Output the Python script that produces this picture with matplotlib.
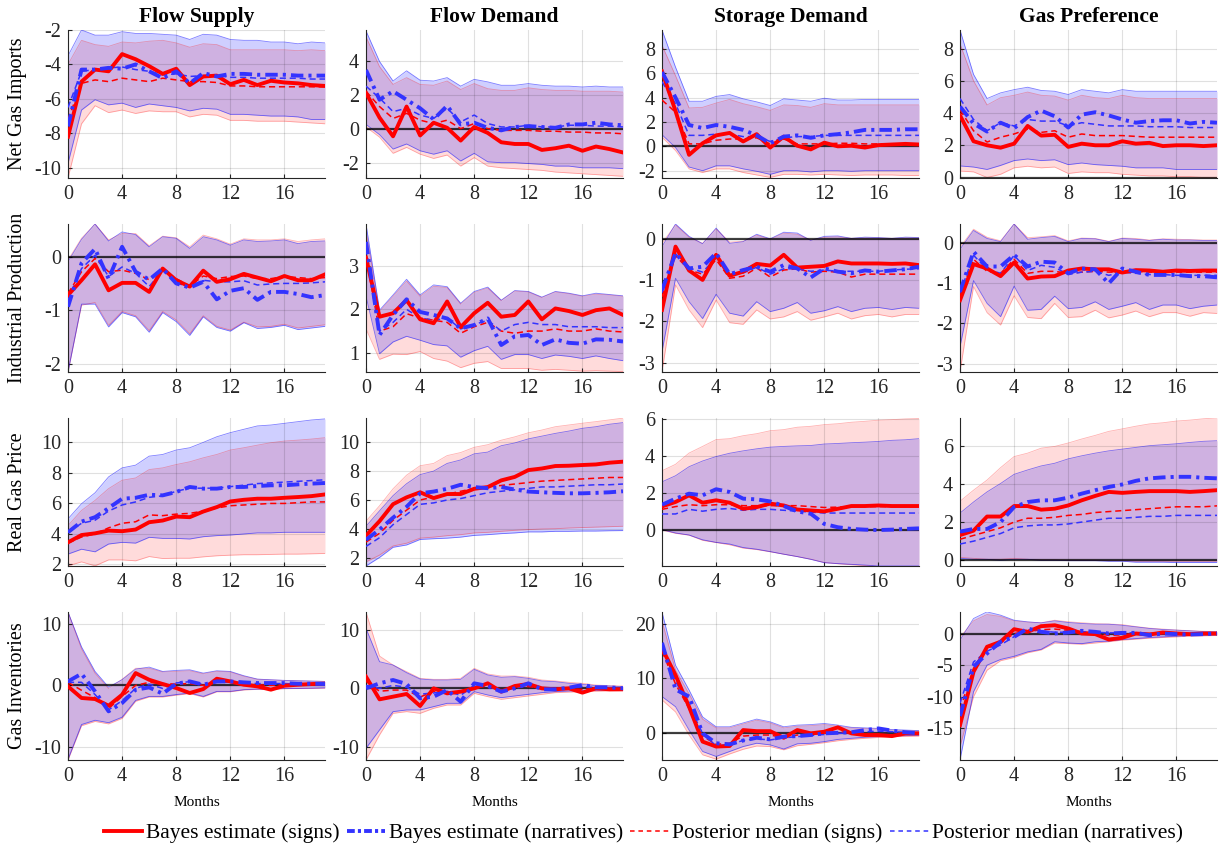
import numpy as np
import matplotlib
matplotlib.use("Agg")
import matplotlib.pyplot as plt
from matplotlib.lines import Line2D

plt.rcParams["font.family"] = ["Liberation Serif", "DejaVu Serif"]
plt.rcParams["axes.unicode_minus"] = False

# ---- labels ----
shocks = ["Flow Supply", "Flow Demand", "Storage Demand", "Gas Preference"]
variables = ["Net Gas Imports", "Industrial Production", "Real Gas Price", "Gas Inventories"]
months = np.arange(20)

# ---- data: [variable][shock] -> 20 horizons ----
# 68% bands, sign restrictions only (red)
sig_hi = [
    [[-4.0, -2.6, -2.85, -2.95, -2.7, -2.75, -2.65, -2.6, -2.75, -3.0, -2.8, -2.85, -3.15, -3.15, -3.15, -3.15, -3.15, -3.2, -3.15, -3.2],
     [5.4, 3.65, 2.6, 3.0, 2.6, 2.55, 2.8, 2.3, 2.65, 2.35, 2.25, 2.25, 2.4, 2.3, 2.25, 2.25, 2.2, 2.2, 2.2, 2.15],
     [8.3, 5.8, 3.15, 3.2, 3.55, 3.85, 3.5, 3.25, 2.95, 3.4, 3.35, 3.2, 3.5, 3.4, 3.4, 3.4, 3.4, 3.4, 3.4, 3.4],
     [8.3, 6.0, 4.5, 4.95, 5.1, 5.3, 5.1, 5.05, 4.8, 5.1, 4.95, 4.9, 5.1, 4.95, 4.9, 4.9, 4.9, 4.9, 4.9, 4.9]],
    [[-0.05, 0.36, 0.63, 0.33, 0.45, 0.45, 0.22, 0.4, 0.37, 0.2, 0.42, 0.35, 0.25, 0.35, 0.33, 0.33, 0.35, 0.3, 0.33, 0.35],
     [3.8, 1.95, 2.3, 2.65, 2.3, 2.53, 2.5, 2.12, 2.39, 2.49, 2.2, 2.42, 2.4, 2.27, 2.4, 2.36, 2.3, 2.35, 2.33, 2.3],
     [-0.1, 0.35, 0.05, -0.1, 0.25, -0.07, -0.05, 0.1, 0.0, 0.15, 0.12, -0.02, 0.05, 0.06, 0.02, 0.03, 0.03, 0.02, 0.03, 0.03],
     [-0.1, 0.35, 0.15, 0.06, 0.48, 0.14, 0.16, 0.19, 0.06, 0.13, 0.12, 0.05, 0.13, 0.12, 0.08, 0.11, 0.1, 0.09, 0.08, 0.08]],
    [[4.55, 5.54, 6.2, 6.97, 7.52, 7.67, 8.22, 8.33, 8.55, 8.73, 8.99, 9.21, 9.5, 9.65, 9.82, 9.98, 10.09, 10.15, 10.22, 10.31],
     [4.54, 5.6, 6.77, 7.71, 8.36, 8.52, 9.06, 9.27, 9.63, 9.81, 10.12, 10.35, 10.63, 10.82, 11.05, 11.17, 11.29, 11.4, 11.52, 11.64],
     [3.19, 3.54, 4.15, 4.51, 4.88, 4.93, 5.09, 5.2, 5.36, 5.42, 5.55, 5.6, 5.69, 5.74, 5.82, 5.87, 5.93, 5.96, 6.0, 6.02],
     [3.09, 3.67, 4.2, 4.85, 5.43, 5.61, 5.87, 5.96, 6.14, 6.35, 6.54, 6.75, 6.88, 7.02, 7.14, 7.2, 7.29, 7.34, 7.41, 7.46]],
    [[12.0, 6.0, 2.0, -0.5, 1.0, 2.8, 2.8, 2.2, 2.3, 2.4, 1.9, 2.3, 2.2, 1.5, 1.0, 0.9, 0.8, 0.75, 0.7, 0.65],
     [13.1, 5.54, 4.0, 2.86, 1.71, 1.54, 1.54, 1.71, 3.43, 2.46, 2.11, 2.11, 1.89, 1.43, 1.26, 1.03, 0.86, 0.57, 0.46, 0.4],
     [20.5, 11.5, 7.2, 2.6, 1.0, 1.0, 1.7, 2.4, 1.9, 1.0, 1.3, 1.4, 1.6, 1.3, 1.0, 0.9, 0.8, 0.6, 0.5, 0.45],
     [-0.6, 2.0, 3.0, 2.7, 2.0, 1.8, 1.7, 2.1, 1.85, 1.7, 1.55, 1.5, 1.4, 1.1, 0.85, 0.7, 0.55, 0.45, 0.35, 0.3]],
]
sig_lo = [
    [[-10.6, -7.45, -6.4, -6.8, -6.65, -6.85, -6.7, -6.75, -6.75, -7.05, -6.9, -6.95, -7.25, -7.25, -7.3, -7.3, -7.3, -7.35, -7.4, -7.45],
     [0.1, -0.5, -1.45, -1.1, -1.5, -1.75, -1.55, -2.2, -1.7, -2.2, -2.3, -2.35, -2.4, -2.45, -2.55, -2.6, -2.65, -2.7, -2.75, -2.8],
     [0.75, -0.35, -1.85, -2.15, -1.85, -1.85, -2.15, -2.35, -2.55, -2.3, -2.3, -2.35, -2.3, -2.35, -2.4, -2.35, -2.35, -2.35, -2.4, -2.4],
     [0.4, 0.35, 0.0, 0.2, 0.6, 0.7, 0.6, 0.65, 0.25, 0.35, 0.3, 0.3, 0.2, 0.15, 0.1, 0.1, 0.05, 0.05, 0.0, 0.0]],
    [[-2.16, -0.9, -0.85, -1.28, -1.02, -1.1, -1.38, -1.02, -1.18, -1.44, -1.1, -1.3, -1.37, -1.22, -1.31, -1.3, -1.26, -1.33, -1.3, -1.27],
     [1.55, 0.85, 0.97, 0.96, 1.03, 0.87, 0.81, 0.66, 0.76, 0.8, 0.64, 0.64, 0.64, 0.6, 0.62, 0.6, 0.58, 0.59, 0.58, 0.57],
     [-3.23, -1.11, -1.72, -2.15, -1.48, -2.03, -2.07, -1.72, -1.94, -1.89, -1.76, -1.97, -1.89, -1.8, -1.94, -1.86, -1.83, -1.89, -1.83, -1.83],
     [-3.21, -1.08, -1.73, -2.04, -1.31, -1.85, -1.88, -1.5, -1.85, -1.83, -1.67, -1.86, -1.79, -1.69, -1.83, -1.73, -1.73, -1.82, -1.73, -1.75]],
    [[1.91, 2.17, 1.91, 2.3, 2.3, 2.24, 2.52, 2.39, 2.41, 2.41, 2.5, 2.57, 2.61, 2.64, 2.64, 2.66, 2.68, 2.68, 2.7, 2.72],
     [1.73, 2.2, 2.83, 3.02, 3.37, 3.44, 3.54, 3.61, 3.73, 3.77, 3.84, 3.91, 3.96, 4.0, 4.02, 4.07, 4.1, 4.13, 4.16, 4.19],
     [-0.02, -0.2, -0.3, -0.58, -0.7, -0.82, -1.0, -1.08, -1.2, -1.33, -1.46, -1.6, -1.78, -1.85, -1.9, -1.95, -2.0, -2.0, -2.0, -2.0],
     [0.15, 0.1, 0.05, 0.05, 0.1, 0.05, 0.02, 0.02, 0.0, 0.0, 0.0, -0.02, -0.02, -0.05, -0.05, -0.05, -0.05, -0.05, -0.05, -0.05]],
    [[-12.2, -6.6, -5.9, -6.3, -5.4, -2.6, -1.9, -1.9, -1.6, -1.35, -1.9, -1.05, -1.05, -0.75, -0.65, -0.65, -0.55, -0.5, -0.5, -0.45],
     [-12.3, -8.0, -4.29, -4.0, -4.29, -3.43, -2.86, -2.86, -0.86, -1.43, -1.89, -1.6, -1.31, -1.03, -0.74, -0.65, -0.57, -0.5, -0.45, -0.4],
     [6.1, 3.9, -0.3, -3.9, -4.7, -3.75, -2.9, -2.3, -2.4, -3.0, -2.25, -2.0, -1.7, -1.35, -1.1, -0.9, -0.75, -0.6, -0.55, -0.5],
     [-17.9, -10.0, -5.8, -4.3, -3.8, -3.05, -2.6, -1.5, -1.6, -1.7, -1.5, -1.3, -1.05, -0.9, -0.74, -0.63, -0.53, -0.42, -0.37, -0.32]],
]
# 68% bands, signs + narratives (blue)
nar_hi = [
    [[-3.5, -2.0, -2.3, -2.3, -2.1, -2.2, -2.2, -2.25, -2.3, -2.55, -2.25, -2.3, -2.55, -2.6, -2.6, -2.7, -2.7, -2.8, -2.7, -2.75],
     [5.75, 3.95, 2.8, 3.4, 2.85, 2.8, 3.0, 2.5, 2.9, 2.75, 2.55, 2.55, 2.65, 2.55, 2.5, 2.5, 2.45, 2.5, 2.45, 2.45],
     [9.55, 6.5, 3.7, 3.7, 4.1, 4.25, 3.9, 3.65, 3.35, 3.9, 3.8, 3.7, 3.95, 3.8, 3.8, 3.85, 3.85, 3.85, 3.85, 3.85],
     [9.15, 6.4, 4.9, 5.25, 5.45, 5.6, 5.4, 5.35, 5.15, 5.45, 5.35, 5.25, 5.45, 5.35, 5.35, 5.35, 5.35, 5.35, 5.35, 5.35]],
    [[-0.08, 0.34, 0.63, 0.31, 0.48, 0.43, 0.2, 0.39, 0.36, 0.17, 0.39, 0.33, 0.23, 0.33, 0.3, 0.31, 0.33, 0.26, 0.3, 0.31],
     [3.96, 1.98, 2.33, 2.69, 2.33, 2.56, 2.52, 2.14, 2.41, 2.51, 2.21, 2.43, 2.41, 2.28, 2.41, 2.37, 2.31, 2.37, 2.34, 2.31],
     [-0.18, 0.37, 0.07, -0.11, 0.27, -0.1, -0.06, 0.12, 0.01, 0.17, 0.15, -0.03, 0.07, 0.08, 0.02, 0.05, 0.04, 0.02, 0.05, 0.04],
     [-0.15, 0.32, 0.12, 0.04, 0.48, 0.1, 0.14, 0.17, 0.04, 0.12, 0.11, 0.04, 0.12, 0.1, 0.07, 0.1, 0.08, 0.08, 0.07, 0.07]],
    [[4.99, 5.98, 6.7, 7.74, 8.33, 8.51, 9.1, 9.21, 9.5, 9.65, 10.0, 10.37, 10.64, 10.86, 11.08, 11.14, 11.25, 11.36, 11.47, 11.54],
     [4.19, 5.25, 6.3, 7.12, 7.75, 7.99, 8.52, 8.76, 9.18, 9.3, 9.74, 9.93, 10.21, 10.4, 10.59, 10.75, 10.94, 11.05, 11.22, 11.33],
     [2.59, 2.92, 3.41, 3.72, 3.96, 4.14, 4.27, 4.38, 4.47, 4.51, 4.54, 4.56, 4.64, 4.67, 4.71, 4.74, 4.78, 4.84, 4.87, 4.93],
     [2.47, 3.05, 3.58, 4.02, 4.5, 4.73, 4.94, 5.08, 5.31, 5.47, 5.61, 5.73, 5.82, 5.91, 6.0, 6.05, 6.1, 6.17, 6.23, 6.26]],
    [[12.0, 6.3, 2.28, -0.27, 0.92, 2.66, 2.99, 2.28, 2.45, 2.55, 2.01, 2.39, 2.28, 1.58, 1.03, 0.92, 0.82, 0.76, 0.7, 0.65],
     [10.3, 4.57, 4.0, 2.69, 1.6, 1.43, 1.43, 1.54, 3.26, 2.29, 1.89, 2.0, 1.71, 1.26, 1.14, 0.86, 0.69, 0.46, 0.4, 0.29],
     [22.1, 12.4, 7.9, 3.0, 1.2, 1.2, 1.9, 2.6, 2.1, 1.2, 1.5, 1.6, 1.8, 1.5, 1.1, 1.0, 0.9, 0.7, 0.6, 0.5],
     [-1.05, 2.37, 3.42, 2.9, 2.1, 1.84, 1.68, 2.0, 1.74, 1.58, 1.47, 1.47, 1.3, 1.05, 0.8, 0.63, 0.53, 0.42, 0.3, 0.26]],
]
nar_lo = [
    [[-9.75, -6.65, -6.05, -6.35, -6.25, -6.5, -6.3, -6.4, -6.5, -6.7, -6.55, -6.6, -6.9, -6.9, -6.95, -7.0, -7.0, -7.05, -7.2, -7.2],
     [0.25, -0.35, -1.2, -0.9, -1.3, -1.5, -1.3, -1.9, -1.45, -1.95, -2.0, -2.0, -2.05, -2.1, -2.2, -2.2, -2.3, -2.3, -2.3, -2.35],
     [0.95, -0.1, -1.7, -2.0, -1.6, -1.6, -1.85, -2.05, -2.3, -2.0, -2.0, -2.1, -2.0, -2.0, -2.05, -2.0, -2.0, -2.0, -2.0, -2.0],
     [0.72, 0.65, 0.5, 0.75, 1.05, 1.15, 1.05, 1.1, 0.8, 0.9, 0.8, 0.75, 0.7, 0.6, 0.6, 0.6, 0.5, 0.5, 0.5, 0.5]],
    [[-2.16, -0.88, -0.88, -1.31, -1.04, -1.12, -1.41, -1.04, -1.21, -1.47, -1.12, -1.32, -1.39, -1.23, -1.34, -1.32, -1.28, -1.36, -1.33, -1.3],
     [2.3, 0.98, 1.25, 1.38, 1.29, 1.19, 1.16, 0.9, 1.05, 1.15, 0.85, 0.96, 0.96, 0.87, 0.95, 0.92, 0.87, 0.93, 0.87, 0.82],
     [-2.74, -0.95, -1.52, -1.93, -1.34, -1.8, -1.87, -1.52, -1.76, -1.68, -1.54, -1.8, -1.74, -1.64, -1.76, -1.68, -1.66, -1.71, -1.66, -1.68],
     [-2.58, -0.93, -1.5, -1.83, -1.07, -1.67, -1.65, -1.32, -1.63, -1.6, -1.46, -1.65, -1.57, -1.48, -1.65, -1.54, -1.54, -1.63, -1.57, -1.54]],
    [[2.68, 3.0, 2.83, 3.34, 3.45, 3.4, 3.78, 3.71, 3.71, 3.67, 3.82, 3.89, 3.93, 4.0, 4.07, 4.07, 4.11, 4.11, 4.11, 4.11],
     [1.45, 2.04, 2.74, 2.9, 3.28, 3.33, 3.37, 3.44, 3.56, 3.61, 3.68, 3.73, 3.8, 3.8, 3.84, 3.84, 3.86, 3.86, 3.88, 3.89],
     [0.0, -0.18, -0.29, -0.55, -0.69, -0.78, -0.97, -1.06, -1.19, -1.33, -1.46, -1.61, -1.79, -1.84, -1.88, -1.92, -1.97, -1.97, -1.97, -1.97],
     [0.1, 0.05, 0.05, 0.0, 0.05, 0.05, 0.0, 0.0, -0.02, -0.02, -0.02, -0.05, -0.05, -0.1, -0.1, -0.1, -0.12, -0.12, -0.12, -0.12]],
    [[-12.1, -6.4, -5.7, -6.1, -5.2, -2.45, -1.8, -1.8, -1.5, -1.25, -1.8, -0.98, -0.98, -0.7, -0.6, -0.6, -0.5, -0.5, -0.45, -0.4],
     [-10.3, -7.14, -4.0, -3.71, -3.71, -3.14, -2.57, -2.57, -0.57, -1.14, -1.6, -1.31, -1.03, -0.74, -0.57, -0.46, -0.4, -0.34, -0.3, -0.29],
     [6.7, 4.85, 0.6, -3.3, -4.2, -3.3, -2.4, -1.8, -2.1, -2.85, -1.9, -1.8, -1.5, -1.1, -0.9, -0.7, -0.6, -0.5, -0.4, -0.35],
     [-20.0, -9.2, -5.0, -4.1, -3.6, -2.9, -2.5, -1.3, -1.5, -1.6, -1.3, -1.2, -0.95, -0.8, -0.63, -0.53, -0.42, -0.32, -0.26, -0.21]],
]
# point estimates
bayes_sig = [
    [[-8.2, -5.0, -4.3, -4.4, -3.4, -3.7, -4.1, -4.55, -4.25, -5.2, -4.7, -4.65, -5.15, -4.9, -5.2, -4.95, -5.05, -5.1, -5.2, -5.25],
     [2.1, 0.65, -0.45, 1.3, -0.4, 0.35, 0.05, -0.7, 0.1, -0.25, -0.8, -0.9, -0.9, -1.25, -1.15, -1.0, -1.3, -1.05, -1.2, -1.4],
     [6.15, 2.9, -0.7, 0.25, 0.9, 1.1, 0.4, 1.0, -0.1, 0.8, 0.05, -0.25, 0.3, 0.0, 0.05, -0.1, 0.1, 0.15, 0.2, 0.15],
     [3.85, 2.25, 2.0, 1.85, 2.1, 3.2, 2.6, 2.65, 1.9, 2.1, 2.0, 2.0, 2.25, 2.1, 2.15, 1.95, 2.0, 2.0, 1.95, 2.0]],
    [[-0.71, -0.43, -0.13, -0.62, -0.48, -0.48, -0.65, -0.21, -0.43, -0.55, -0.25, -0.46, -0.41, -0.31, -0.38, -0.45, -0.35, -0.43, -0.43, -0.32],
     [3.19, 1.83, 1.91, 2.21, 1.77, 1.68, 2.18, 1.59, 1.91, 2.15, 1.83, 1.87, 2.18, 1.77, 2.02, 1.96, 1.87, 1.98, 2.02, 1.87],
     [-1.72, -0.18, -0.76, -0.99, -0.38, -0.89, -0.79, -0.6, -0.64, -0.38, -0.69, -0.67, -0.65, -0.54, -0.59, -0.59, -0.59, -0.6, -0.59, -0.63],
     [-1.42, -0.52, -0.63, -0.82, -0.48, -0.88, -0.83, -0.82, -0.68, -0.63, -0.65, -0.65, -0.73, -0.67, -0.68, -0.71, -0.68, -0.69, -0.68, -0.68]],
    [[3.45, 3.93, 4.04, 4.22, 4.18, 4.29, 4.77, 4.88, 5.14, 5.1, 5.47, 5.76, 6.13, 6.24, 6.31, 6.31, 6.37, 6.42, 6.48, 6.59],
     [3.54, 4.54, 5.71, 6.18, 6.53, 6.13, 6.41, 6.41, 6.77, 6.89, 7.35, 7.59, 8.06, 8.17, 8.34, 8.36, 8.41, 8.45, 8.57, 8.64],
     [1.26, 1.5, 1.86, 1.46, 1.59, 1.46, 1.13, 1.22, 1.41, 1.31, 1.09, 1.04, 0.99, 1.13, 1.28, 1.28, 1.31, 1.28, 1.28, 1.28],
     [1.32, 1.55, 2.29, 2.29, 2.84, 2.84, 2.65, 2.7, 2.87, 3.14, 3.37, 3.58, 3.53, 3.58, 3.62, 3.62, 3.62, 3.58, 3.62, 3.67]],
    [[-0.16, -2.06, -2.23, -3.32, -1.52, 2.01, 0.92, 0.22, -0.43, -1.25, -0.6, 1.09, 0.65, 0.11, -0.16, -0.7, -0.05, 0.11, 0.22, 0.27],
     [2.0, -1.89, -1.43, -0.97, -3.03, 0.0, -0.86, -0.57, 0.0, 0.86, -0.57, 0.4, 0.74, 0.0, -0.17, 0.0, -0.74, 0.0, -0.17, -0.17],
     [15.5, 10.6, 4.85, -1.5, -2.4, -2.3, 0.6, 0.4, 0.4, -0.8, 0.6, 0.0, 0.3, 1.1, 0.0, -0.3, -0.3, -0.5, 0.0, 0.0],
     [-14.5, -6.05, -2.1, -1.3, 0.68, 0.26, 1.16, 1.3, 0.8, 0.0, -0.1, -0.95, -0.68, 0.0, -0.16, 0.16, 0.0, -0.1, 0.0, 0.0]],
]
bayes_nar = [
    [[-7.6, -4.3, -4.3, -4.2, -4.25, -4.0, -4.4, -4.8, -4.4, -5.1, -4.5, -4.7, -4.55, -4.55, -4.6, -4.6, -4.6, -4.65, -4.65, -4.65],
     [3.45, 1.7, 2.2, 1.7, 1.2, 0.55, 1.35, 0.25, 0.35, 0.05, -0.1, 0.1, 0.15, 0.1, 0.05, 0.25, 0.25, 0.35, 0.25, 0.2],
     [6.1, 4.0, 1.75, 1.5, 1.75, 1.6, 1.35, 0.9, 0.25, 0.8, 0.9, 0.7, 0.9, 1.0, 1.15, 1.35, 1.35, 1.35, 1.4, 1.4],
     [4.4, 3.35, 2.85, 3.4, 3.05, 3.75, 4.15, 3.8, 3.1, 3.9, 4.05, 3.85, 3.6, 3.4, 3.5, 3.55, 3.55, 3.35, 3.45, 3.4]],
    [[-0.93, -0.11, 0.16, -0.4, 0.2, -0.27, -0.42, -0.21, -0.49, -0.57, -0.46, -0.79, -0.63, -0.58, -0.8, -0.65, -0.65, -0.69, -0.75, -0.71],
     [3.55, 1.41, 1.87, 2.23, 1.94, 1.87, 1.79, 1.56, 1.64, 1.79, 1.18, 1.38, 1.41, 1.18, 1.31, 1.23, 1.21, 1.31, 1.3, 1.26],
     [-1.24, -0.34, -0.71, -0.67, -0.34, -0.85, -0.75, -0.67, -0.79, -0.63, -0.71, -0.93, -0.71, -0.79, -0.83, -0.76, -0.79, -0.76, -0.73, -0.67],
     [-1.21, -0.21, -0.58, -0.58, -0.29, -0.58, -0.46, -0.48, -0.75, -0.63, -0.65, -1.0, -0.63, -0.71, -0.79, -0.79, -0.79, -0.82, -0.82, -0.85]],
    [[4.11, 4.81, 5.1, 5.69, 6.31, 6.37, 6.57, 6.53, 6.75, 7.08, 6.97, 6.97, 7.08, 7.08, 7.14, 7.19, 7.19, 7.25, 7.3, 7.34],
     [3.26, 3.96, 4.78, 5.53, 6.46, 6.58, 6.77, 7.05, 6.89, 6.81, 6.89, 6.72, 6.58, 6.53, 6.49, 6.46, 6.46, 6.49, 6.53, 6.6],
     [1.35, 1.68, 1.95, 1.86, 2.19, 2.04, 1.68, 1.64, 1.53, 1.28, 0.99, 0.86, 0.31, 0.13, 0.04, 0.0, -0.02, 0.0, 0.04, 0.07],
     [1.5, 1.64, 1.64, 2.0, 2.79, 3.05, 3.14, 3.14, 3.28, 3.49, 3.67, 3.84, 3.97, 4.16, 4.29, 4.34, 4.37, 4.37, 4.32, 4.29]],
    [[0.65, 1.9, -0.98, -4.24, -2.88, -0.71, -0.33, -1.36, 0.27, 0.65, 0.11, 0.65, 0.65, 0.49, 0.38, 0.38, 0.38, 0.27, 0.27, 0.22],
     [0.0, 0.86, 1.43, 0.74, -1.71, -1.43, -0.29, -2.29, 0.86, 0.4, -0.57, 0.0, 0.86, -0.17, -0.17, 0.11, 0.57, 0.17, 0.17, 0.0],
     [16.5, 8.0, 6.7, 0.0, -1.8, -2.0, -1.3, -0.8, -1.1, -0.6, -0.5, -0.3, 0.0, 0.1, 0.2, 0.6, 0.9, 0.5, 0.2, 0.0],
     [-13.05, -5.26, -3.16, -1.3, -0.53, 0.79, 0.26, 0.0, 0.16, 0.42, 0.26, 0.0, 0.1, 0.1, -0.26, 0.0, -0.1, -0.16, -0.1, 0.0]],
]
med_sig = [
    [[-7.2, -5.1, -4.9, -5.0, -4.8, -4.9, -5.0, -4.8, -4.9, -5.0, -5.0, -5.05, -5.25, -5.25, -5.3, -5.3, -5.3, -5.3, -5.3, -5.3],
     [2.2, 1.3, 0.6, 0.9, 0.5, 0.3, 0.5, 0.0, 0.3, 0.0, -0.1, -0.1, -0.1, -0.15, -0.15, -0.2, -0.2, -0.25, -0.25, -0.3],
     [3.8, 2.8, 0.2, 0.2, 0.5, 0.6, 0.6, 0.7, 0.2, 0.6, 0.2, 0.2, 0.2, 0.25, 0.25, 0.2, 0.2, 0.2, 0.2, 0.2],
     [4.2, 2.9, 2.2, 2.5, 2.7, 3.0, 2.8, 2.9, 2.5, 2.7, 2.6, 2.6, 2.6, 2.55, 2.5, 2.5, 2.5, 2.5, 2.5, 2.5]],
    [[-0.68, -0.27, -0.02, -0.27, -0.24, -0.3, -0.42, -0.24, -0.4, -0.54, -0.35, -0.4, -0.36, -0.35, -0.4, -0.4, -0.36, -0.38, -0.4, -0.38],
     [3.2, 1.5, 1.6, 1.9, 1.8, 1.75, 1.7, 1.45, 1.6, 1.7, 1.5, 1.45, 1.5, 1.5, 1.55, 1.5, 1.5, 1.55, 1.5, 1.48],
     [-1.4, -0.4, -0.75, -0.85, -0.5, -0.95, -0.9, -0.7, -0.92, -0.75, -0.72, -0.8, -0.78, -0.8, -0.92, -0.85, -0.85, -0.85, -0.85, -0.85],
     [-1.3, -0.4, -0.7, -0.75, -0.4, -0.75, -0.7, -0.7, -0.75, -0.72, -0.7, -0.72, -0.72, -0.7, -0.72, -0.72, -0.72, -0.72, -0.72, -0.72]],
    [[3.4, 3.8, 4.0, 4.4, 4.7, 4.8, 5.25, 5.2, 5.3, 5.35, 5.5, 5.7, 5.85, 5.9, 5.95, 6.0, 6.0, 6.05, 6.1, 6.1],
     [3.1, 3.7, 4.6, 5.3, 6.0, 6.2, 6.4, 6.6, 6.8, 6.9, 7.0, 7.1, 7.2, 7.3, 7.35, 7.4, 7.45, 7.5, 7.55, 7.55],
     [1.1, 1.25, 1.35, 1.3, 1.35, 1.35, 1.3, 1.3, 1.3, 1.3, 1.3, 1.25, 1.2, 1.22, 1.25, 1.25, 1.25, 1.25, 1.25, 1.25],
     [1.1, 1.3, 1.5, 1.7, 2.0, 2.2, 2.2, 2.25, 2.35, 2.4, 2.5, 2.55, 2.6, 2.65, 2.7, 2.75, 2.8, 2.8, 2.8, 2.85]],
    [[0.5, -0.8, -2.0, -3.8, -1.8, 0.0, 0.5, 0.3, 0.2, 0.3, 0.0, 0.6, 0.5, 0.2, 0.1, 0.0, 0.1, 0.1, 0.1, 0.1],
     [1.2, -0.5, -0.3, -0.3, -1.5, -0.5, -0.8, -0.5, 0.3, 0.3, -0.3, 0.2, 0.3, 0.0, -0.1, 0.0, -0.2, 0.0, -0.1, -0.1],
     [15.0, 9.0, 4.5, -0.5, -2.0, -1.8, -0.5, -0.3, -0.3, -0.8, -0.3, -0.2, 0.0, 0.3, 0.0, -0.2, -0.2, -0.3, -0.1, -0.1],
     [-12.0, -5.5, -2.3, -1.5, 0.0, 0.3, 0.6, 0.7, 0.5, 0.3, 0.1, -0.3, -0.2, 0.0, 0.0, 0.1, 0.0, 0.0, 0.0, 0.0]],
]
med_nar = [
    [[-6.5, -4.4, -4.3, -4.2, -4.15, -4.3, -4.4, -4.6, -4.55, -4.7, -4.65, -4.65, -4.75, -4.75, -4.8, -4.8, -4.8, -4.8, -4.85, -4.85],
     [2.5, 1.8, 1.0, 1.2, 0.8, 0.6, 1.2, 0.4, 0.8, 0.3, 0.1, 0.1, 0.2, 0.1, 0.1, 0.2, 0.2, 0.15, 0.15, 0.1],
     [5.3, 3.5, 0.9, 0.9, 1.0, 1.0, 0.8, 0.8, 0.4, 0.7, 0.8, 0.8, 0.9, 0.9, 0.9, 0.9, 0.9, 0.9, 0.9, 0.9],
     [4.9, 3.6, 2.9, 3.4, 3.2, 3.6, 3.5, 3.5, 3.2, 3.4, 3.3, 3.2, 3.2, 3.2, 3.15, 3.15, 3.15, 3.1, 3.1, 3.1]],
    [[-0.8, -0.21, 0.04, -0.36, -0.18, -0.3, -0.55, -0.24, -0.49, -0.54, -0.43, -0.46, -0.46, -0.44, -0.52, -0.5, -0.49, -0.49, -0.48, -0.46],
     [3.4, 1.5, 1.7, 2.0, 1.8, 1.75, 1.8, 1.55, 1.65, 1.75, 1.5, 1.65, 1.7, 1.65, 1.65, 1.6, 1.6, 1.6, 1.58, 1.58],
     [-1.3, -0.35, -0.7, -0.8, -0.45, -0.85, -0.82, -0.68, -0.85, -0.72, -0.72, -0.78, -0.75, -0.78, -0.78, -0.78, -0.78, -0.75, -0.73, -0.72],
     [-1.25, -0.3, -0.65, -0.75, -0.3, -0.68, -0.55, -0.6, -0.78, -0.72, -0.7, -0.8, -0.72, -0.75, -0.78, -0.78, -0.8, -0.8, -0.8, -0.8]],
    [[4.1, 4.7, 4.9, 5.5, 5.9, 6.1, 6.4, 6.5, 6.8, 7.0, 7.0, 7.0, 7.1, 7.2, 7.3, 7.35, 7.4, 7.45, 7.5, 7.55],
     [2.8, 3.4, 4.3, 5.0, 5.7, 5.8, 6.0, 6.1, 6.3, 6.5, 6.6, 6.7, 6.8, 6.9, 6.9, 6.95, 7.0, 7.05, 7.05, 7.1],
     [0.85, 0.85, 1.1, 1.0, 1.1, 1.15, 1.05, 1.1, 1.1, 1.05, 1.0, 0.95, 0.9, 0.9, 0.9, 0.9, 0.9, 0.9, 0.9, 0.9],
     [0.85, 1.0, 1.2, 1.4, 1.7, 1.8, 1.85, 1.85, 1.9, 2.0, 2.1, 2.2, 2.2, 2.25, 2.3, 2.3, 2.35, 2.35, 2.35, 2.35]],
    [[0.5, 0.5, -1.5, -4.0, -2.5, -0.5, 0.2, -0.5, 0.4, 0.6, 0.2, 0.5, 0.5, 0.4, 0.3, 0.3, 0.3, 0.2, 0.2, 0.2],
     [0.5, 0.0, 0.5, 0.2, -1.0, -0.8, -0.5, -1.2, 0.5, 0.3, -0.4, 0.0, 0.5, -0.1, 0.0, 0.0, 0.3, 0.1, 0.1, 0.0],
     [16.0, 9.5, 5.0, 0.0, -2.3, -2.0, -1.3, -1.0, -1.2, -0.8, -0.6, -0.4, -0.2, 0.0, 0.1, 0.3, 0.4, 0.3, 0.2, 0.1],
     [-11.0, -4.5, -2.8, -1.8, -0.5, 0.6, 0.4, 0.2, 0.2, 0.3, 0.2, 0.1, 0.1, 0.1, 0.0, 0.0, 0.0, 0.0, 0.0, 0.0]],
]

# ---- axis limits / ticks ----
ylims = [
    [(-10.6, -2.0), (-2.9, 5.8), (-2.6, 9.55), (-0.03, 9.15)],
    [(-2.16, 0.63), (0.56, 3.96), (-3.23, 0.37), (-3.21, 0.48)],
    [(1.9, 11.6), (1.45, 11.65), (-1.97, 6.05), (-0.3, 7.45)],
    [(-12.2, 12.0), (-12.3, 13.1), (-4.85, 22.1), (-20.0, 3.4)],
]
yticks = [
    [[-10, -8, -6, -4, -2], [-2, 0, 2, 4], [-2, 0, 2, 4, 6, 8], [0, 2, 4, 6, 8]],
    [[-2, -1, 0], [1, 2, 3], [-3, -2, -1, 0], [-3, -2, -1, 0]],
    [[2, 4, 6, 8, 10], [2, 4, 6, 8, 10], [0, 2, 4, 6], [0, 2, 4, 6]],
    [[-10, 0, 10], [-10, 0, 10], [0, 10, 20], [-15, -10, -5, 0]],
]

RED = "#ff0000"
BLUE = "#3333ff"
W, H = 1221, 852
col_left = [68, 366, 662, 960]
row_top = [30, 224, 418, 612]
aw, ah = 257, 148

fig = plt.figure(figsize=(W / 100, H / 100), dpi=100)

for r in range(4):
    for c in range(4):
        ax = fig.add_axes([col_left[c] / W, 1 - (row_top[r] + ah) / H, aw / W, ah / H])
        # bands
        ax.fill_between(months, sig_lo[r][c], sig_hi[r][c], color=RED, alpha=0.14, lw=0)
        ax.plot(months, sig_hi[r][c], color=RED, lw=0.6, alpha=0.3)
        ax.plot(months, sig_lo[r][c], color=RED, lw=0.6, alpha=0.3)
        ax.fill_between(months, nar_lo[r][c], nar_hi[r][c], color="#0000ff", alpha=0.19, lw=0)
        ax.plot(months, nar_hi[r][c], color="#0000ff", lw=0.6, alpha=0.5)
        ax.plot(months, nar_lo[r][c], color="#0000ff", lw=0.6, alpha=0.5)
        ax.axhline(0, color="black", lw=1.6, alpha=0.75, zorder=3)
        # lines
        ax.plot(months, med_sig[r][c], color=RED, lw=1.1, ls=(0, (4, 2.5)), zorder=4)
        ax.plot(months, med_nar[r][c], color=BLUE, lw=1.1, ls=(0, (4, 2.5)), zorder=4)
        ax.plot(months, bayes_sig[r][c], color=RED, lw=2.8, zorder=5)
        ax.plot(months, bayes_nar[r][c], color=BLUE, lw=2.8, ls=(0, (3.2, 1.3, 0.8, 1.3)), zorder=6)

        ax.set_xlim(0, 19)
        ax.set_ylim(*ylims[r][c])
        ax.set_xticks([0, 4, 8, 12, 16])
        ax.set_yticks(yticks[r][c])
        ax.grid(True, color="black", alpha=0.12, lw=0.8)
        ax.set_axisbelow("line")
        for s in ["top", "right"]:
            ax.spines[s].set_visible(False)
        ax.spines["left"].set_color("#262626")
        ax.spines["bottom"].set_color("#262626")
        ax.tick_params(direction="in", length=3, labelsize=14.5, colors="#262626", pad=5)
        if r == 0:
            ax.set_title(shocks[c], fontsize=15.5, fontweight="bold", pad=6)
        if c == 0:
            ax.set_ylabel(variables[r], fontsize=14.5)
            ax.yaxis.set_label_coords(-0.158, 0.5)
        if r == 3:
            ax.set_xlabel("Months", fontsize=11)
            ax.xaxis.set_label_coords(0.5, -0.24)

handles = [
    Line2D([], [], color=RED, lw=2.8),
    Line2D([], [], color=BLUE, lw=2.8, ls=(0, (2, 0.8, 0.8, 0.8))),
    Line2D([], [], color=RED, lw=1.1, ls=(0, (3, 2.5))),
    Line2D([], [], color=BLUE, lw=1.1, ls=(0, (3, 2.5))),
]
labels = ["Bayes estimate (signs)", "Bayes estimate (narratives)",
          "Posterior median (signs)", "Posterior median (narratives)"]
fig.legend(handles, labels, loc="center", bbox_to_anchor=(0.527, 1 - 833 / H), ncol=4,
           frameon=False, fontsize=15.5, handlelength=1.8, handletextpad=0.15,
           columnspacing=0.35)

fig.savefig("out.png", dpi=100)
